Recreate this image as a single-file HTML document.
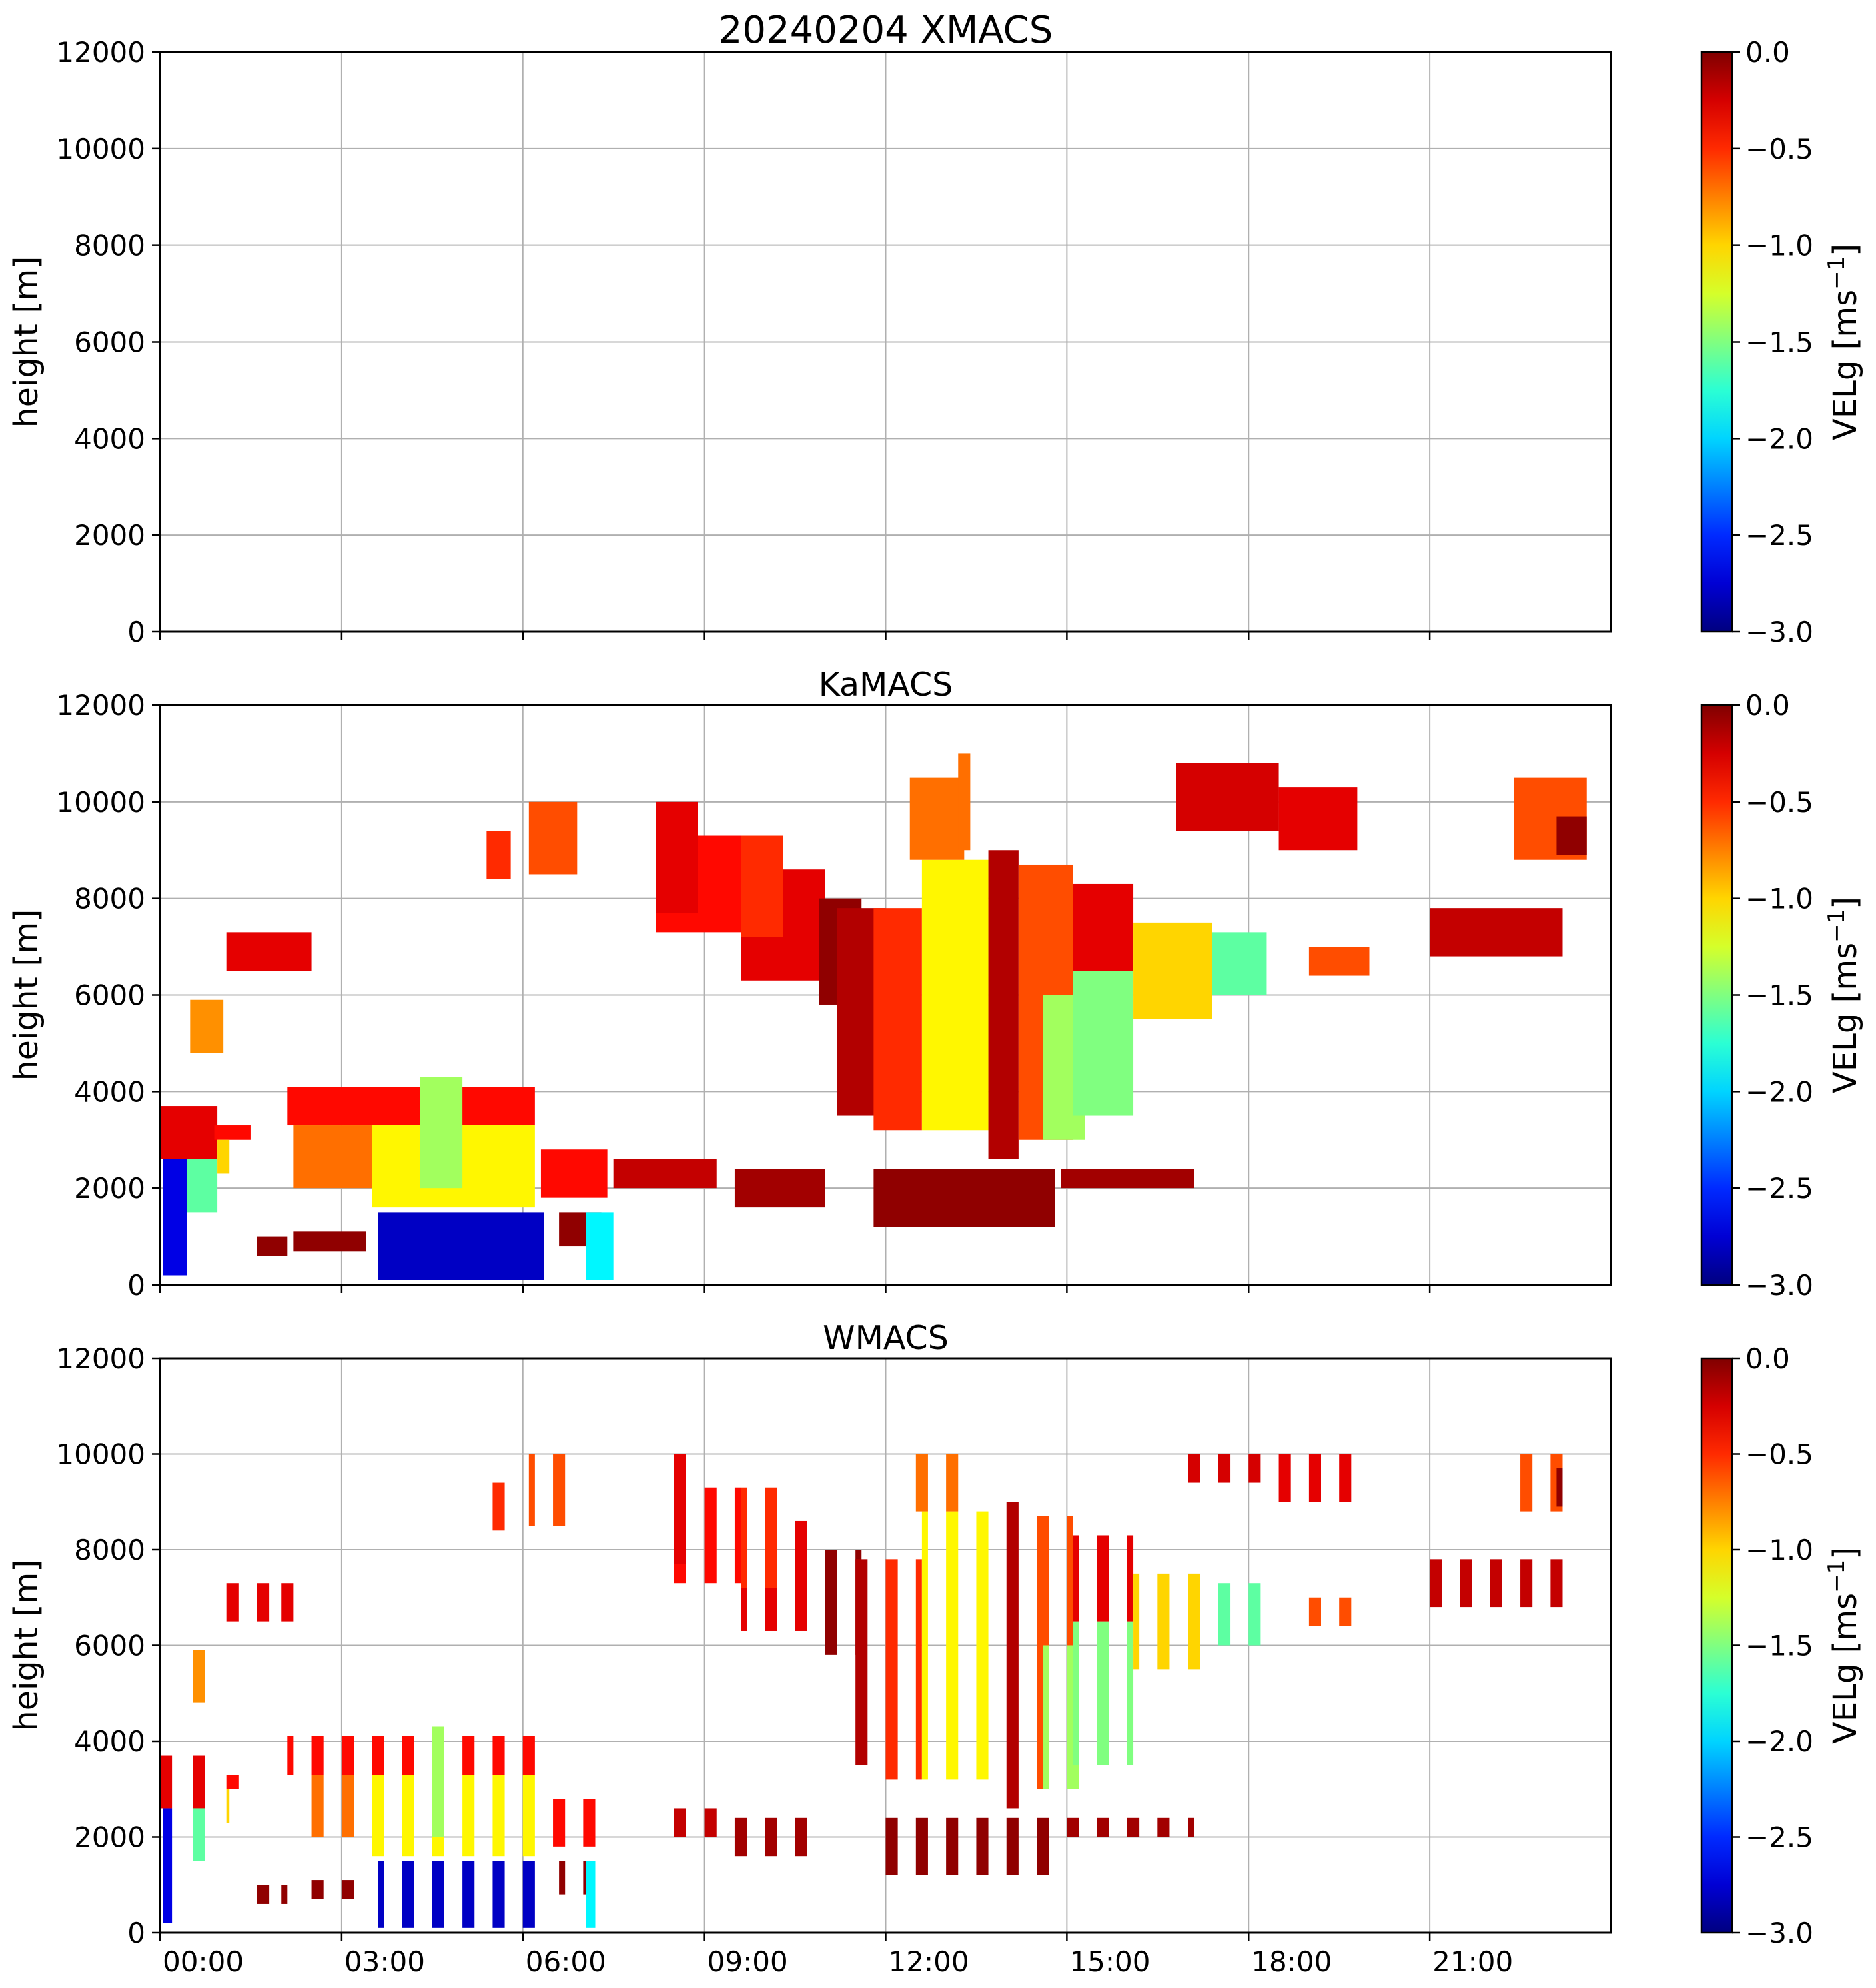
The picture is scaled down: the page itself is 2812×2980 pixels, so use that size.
<!DOCTYPE html>
<html><head><meta charset="utf-8"><style>
html,body{margin:0;padding:0;background:#fff;}
svg{display:block;font-family:"DejaVu Sans","Liberation Sans",sans-serif;}
</style></head><body>
<svg id="fig" width="2812" height="2980" viewBox="0 0 2812 2980" xmlns="http://www.w3.org/2000/svg"></svg>
<script>
// ---- data (hours, metres, m/s) ----
const yTicks = [0, 2000, 4000, 6000, 8000, 10000, 12000];
const xTickHours = [0, 3, 6, 9, 12, 15, 18, 21];
const xTickLabels = ["00:00","03:00","06:00","09:00","12:00","15:00","18:00","21:00"];
const cbTicks = [0.0, -0.5, -1.0, -1.5, -2.0, -2.5, -3.0];
const cbLabels = ["0.0","\u22120.5","\u22121.0","\u22121.5","\u22122.0","\u22122.5","\u22123.0"];
const panelTitles = ["20240204 XMACS", "KaMACS", "WMACS"];
// KaMACS echo regions
const kaStart = [0.0,0.9,0.05,0.45,0.95,0.5,1.1,2.1,2.2,3.5,4.3,3.6,1.6,2.2,6.3,6.6,7.05,7.5,5.4,6.1,8.2,8.2,9.6,9.6,10.9,9.5,11.2,11.8,12.6,12.4,13.2,13.7,14.2,14.6,15.1,15.1,16.1,17.4,11.8,14.9,16.8,18.5,19.0,21.0,22.4,23.1];
const kaEnd   = [0.95,1.5,0.45,0.95,1.15,1.05,2.5,6.2,3.5,6.2,5.0,6.35,2.1,3.4,7.4,7.3,7.5,9.2,5.8,6.9,9.6,8.9,11.0,10.3,11.6,11.0,12.0,12.6,13.7,13.3,13.4,14.2,15.1,15.3,16.1,16.1,17.4,18.3,14.8,17.1,18.5,19.8,20.0,23.2,23.6,23.6];
const kaBottom= [2600,3000,200,1500,2300,4800,6500,3300,2000,1600,2000,100,600,700,1800,800,100,2000,8400,8500,7300,7700,6300,7200,5800,1600,3500,3200,3200,8800,9000,2600,3000,3000,3500,6500,5500,6000,1200,2000,9400,9000,6400,6800,8800,8900];
const kaTop   = [3700,3300,2600,2600,3000,5900,7300,4100,3300,3300,4300,1500,1000,1100,2800,1500,1500,2600,9400,10000,9300,10000,8600,9300,8000,2400,7800,7800,8800,10500,11000,9000,8700,6000,6500,8300,7500,7300,2400,2400,10800,10300,7000,7800,10500,9700];
const kaVel   = [-0.3,-0.4,-2.7,-1.6,-1.0,-0.8,-0.3,-0.4,-0.7,-1.1,-1.4,-2.8,-0.05,-0.05,-0.4,-0.05,-1.9,-0.2,-0.5,-0.6,-0.4,-0.3,-0.3,-0.5,-0.05,-0.1,-0.15,-0.5,-1.1,-0.7,-0.7,-0.15,-0.6,-1.4,-1.5,-0.3,-1.0,-1.6,-0.05,-0.1,-0.25,-0.3,-0.6,-0.2,-0.6,-0.05];
// WMACS sampling windows (start hour), each 0.2 h long; echo capped at 10000 m
const wWindows = [0.0,0.55,1.1,1.6,2.0,2.5,3.0,3.5,4.0,4.5,5.0,5.5,6.0,6.5,7.0,8.5,9.0,9.5,10.0,10.5,11.0,11.5,12.0,12.5,13.0,13.5,14.0,14.5,15.0,15.5,16.0,16.5,17.0,17.5,18.0,18.5,19.0,19.5,21.0,21.5,22.0,22.5,23.0];
const wWindowLen = 0.2;
const wMaxHeight = 10000;

// ---- layout ----
const NS = "http://www.w3.org/2000/svg";
const svg = document.getElementById("fig");
const AX_L = 240, AX_R = 2415;
const panelTop = [78, 1057, 2036];
const panelBot = [947, 1926, 2897];
const CB_L = 2550, CB_R = 2596;

function el(tag, attrs, parent) {
  const e = document.createElementNS(NS, tag);
  for (const k in attrs) e.setAttribute(k, attrs[k]);
  (parent || svg).appendChild(e);
  return e;
}
function xScale(h) { return AX_L + (h / 24) * (AX_R - AX_L); }
function yScale(p, m) { return panelBot[p] - (m / 12000) * (panelBot[p] - panelTop[p]); }
function jet(v) {
  const t = Math.max(0, Math.min(1, (v + 3) / 3));
  const r = Math.max(0, Math.min(1, 1.5 - Math.abs(4 * t - 3)));
  const g = Math.max(0, Math.min(1, 1.5 - Math.abs(4 * t - 2)));
  const b = Math.max(0, Math.min(1, 1.5 - Math.abs(4 * t - 1)));
  return "rgb(" + Math.round(r * 255) + "," + Math.round(g * 255) + "," + Math.round(b * 255) + ")";
}

for (let p = 0; p < 3; p++) {
  const g = el("g", {});
  
  
  yTicks.forEach(v => {
    const gl = el("line", {x1: AX_L, x2: AX_R, y1: yScale(p, v), y2: yScale(p, v), stroke: "#b0b0b0", "stroke-width": 2}, g);
    
    
  });
  xTickHours.forEach(h => {
    const gl = el("line", {x1: xScale(h), x2: xScale(h), y1: panelTop[p], y2: panelBot[p], stroke: "#b0b0b0", "stroke-width": 2}, g);
    
    
  });
  const dg = el("g", {}, g);
  
  
  if (p === 1) {
    for (let i = 0; i < kaStart.length; i++) {
      const r = el("rect", {x: xScale(kaStart[i]), y: yScale(p, kaTop[i]), width: xScale(kaEnd[i]) - xScale(kaStart[i]), height: yScale(p, kaBottom[i]) - yScale(p, kaTop[i]), fill: jet(kaVel[i])}, dg);
      
      
    }
  } else if (p === 2) {
    for (let i = 0; i < kaStart.length; i++) {
      for (let w = 0; w < wWindows.length; w++) {
        const s = Math.max(kaStart[i], wWindows[w]);
        const e = Math.min(kaEnd[i], wWindows[w] + wWindowLen);
        if (e <= s) continue;
        const top = Math.min(kaTop[i], wMaxHeight);
        if (top <= kaBottom[i]) continue;
        const r = el("rect", {x: xScale(s), y: yScale(p, top), width: xScale(e) - xScale(s), height: yScale(p, kaBottom[i]) - yScale(p, top), fill: jet(kaVel[i])}, dg);
        
        
      }
    }
  }
  const fr = el("rect", {x: AX_L, y: panelTop[p], width: AX_R - AX_L, height: panelBot[p] - panelTop[p], fill: "none", stroke: "#000", "stroke-width": 3}, g);
  
  
  yTicks.forEach(v => {
    const y = yScale(p, v);
    el("line", {x1: AX_L - 12, x2: AX_L, y1: y, y2: y, stroke: "#000", "stroke-width": 2.5}, g);
    const t = el("text", {x: AX_L - 22, y: y + 15, "text-anchor": "end", "font-size": 42}, g);
    t.textContent = String(v);
    
    
  });
  xTickHours.forEach((h, i) => {
    const x = xScale(h);
    el("line", {x1: x, x2: x, y1: panelBot[p], y2: panelBot[p] + 12, stroke: "#000", "stroke-width": 2.5}, g);
    if (p === 2) {
      const t = el("text", {x: x + 4, y: panelBot[p] + 58, "font-size": 42}, g);
      t.textContent = xTickLabels[i];
      
      
    }
  });
  const yl = el("text", {x: 0, y: 0, "text-anchor": "middle", "font-size": 49, transform: "translate(56," + ((panelTop[p] + panelBot[p]) / 2) + ") rotate(-90)"}, g);
  yl.textContent = "height [m]";
  
  
  const tt = el("text", {x: (AX_L + AX_R) / 2, y: panelTop[p] - 14, "text-anchor": "middle", "font-size": p === 0 ? 56 : 49}, g);
  tt.textContent = panelTitles[p];
  
  

  const cg = el("g", {}, g);
  
  
  const gid = "jetgrad" + p;
  const defs = el("defs", {}, cg);
  const lg = el("linearGradient", {id: gid, x1: 0, y1: 1, x2: 0, y2: 0}, defs);
  for (let k = 0; k <= 12; k++) {
    el("stop", {offset: (k / 12), "stop-color": jet(-3 + 3 * k / 12)}, lg);
  }
  el("rect", {x: CB_L, y: panelTop[p], width: CB_R - CB_L, height: panelBot[p] - panelTop[p], fill: "url(#" + gid + ")", stroke: "#000", "stroke-width": 2.5}, cg);
  cbTicks.forEach((v, i) => {
    const y = panelBot[p] - ((v + 3) / 3) * (panelBot[p] - panelTop[p]);
    el("line", {x1: CB_R, x2: CB_R + 12, y1: y, y2: y, stroke: "#000", "stroke-width": 2.5}, cg);
    const t = el("text", {x: CB_R + 20, y: y + 15, "font-size": 42}, cg);
    t.textContent = cbLabels[i];
    
    
  });
  const cl = el("text", {x: 0, y: 0, "text-anchor": "middle", "font-size": 48, transform: "translate(2782," + ((panelTop[p] + panelBot[p]) / 2) + ") rotate(-90)"}, cg);
  cl.innerHTML = 'VELg [ms<tspan dy="-18" font-size="34">\u22121</tspan><tspan dy="18">]</tspan>';
  
  
}
</script>
</body></html>
